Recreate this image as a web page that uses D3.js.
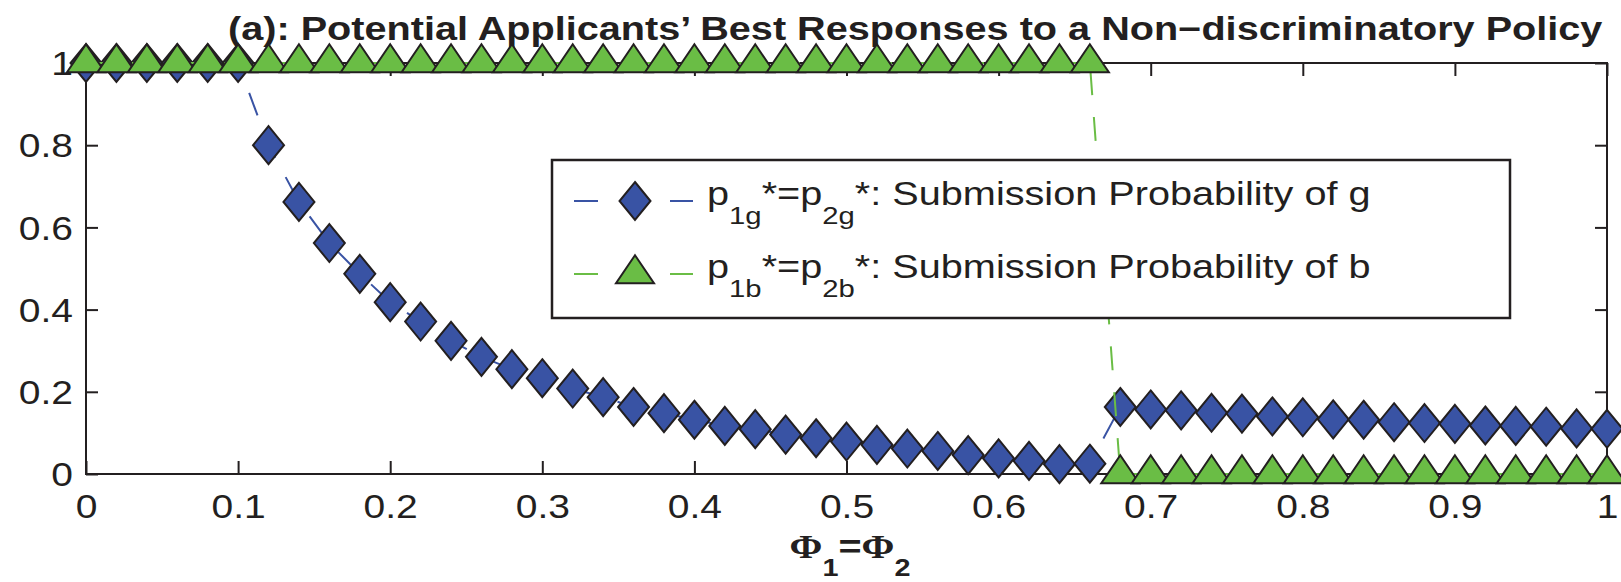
<!DOCTYPE html>
<html><head><meta charset="utf-8">
<script src="https://cdn.jsdelivr.net/npm/d3@7"></script>
<style>
body{margin:0;background:#fff;}
svg{display:block;}
text{font-family:"Liberation Sans",Arial,Helvetica,sans-serif;fill:#231f20;}
</style>
</head><body>
<svg id="chart" width="1621" height="582"></svg>
<script>
// ---------- data ----------
const phi = [0,0.02,0.04,0.06,0.08,0.10,0.12,0.14,0.16,0.18,0.20,0.22,0.24,0.26,0.28,0.30,0.32,0.34,0.36,0.38,0.40,0.42,0.44,0.46,0.48,0.50,0.52,0.54,0.56,0.58,0.60,0.62,0.64,0.66,0.68,0.70,0.72,0.74,0.76,0.78,0.80,0.82,0.84,0.86,0.88,0.90,0.92,0.94,0.96,0.98,1.00];
const pGood = [1,1,1,1,1,1,0.80,0.662,0.562,0.487,0.418,0.371,0.324,0.285,0.255,0.233,0.208,0.187,0.163,0.148,0.132,0.117,0.109,0.096,0.087,0.079,0.071,0.062,0.056,0.046,0.038,0.032,0.024,0.025,0.163,0.157,0.155,0.149,0.147,0.140,0.138,0.133,0.132,0.126,0.124,0.122,0.118,0.117,0.115,0.111,0.110];
const pBad = [1,1,1,1,1,1,1,1,1,1,1,1,1,1,1,1,1,1,1,1,1,1,1,1,1,1,1,1,1,1,1,1,1,1,0,0,0,0,0,0,0,0,0,0,0,0,0,0,0,0,0];
const xTicks = [0,0.1,0.2,0.3,0.4,0.5,0.6,0.7,0.8,0.9,1];
const yTicks = [0,0.2,0.4,0.6,0.8,1];
const titleText = "(a): Potential Applicants\u2019 Best Responses to a Non\u2212discriminatory Policy";
const legendNames = [
  {sub1:"1g", sub2:"2g", rest:"*: Submission Probability of g"},
  {sub1:"1b", sub2:"2b", rest:"*: Submission Probability of b"}
];

// ---------- style ----------
const INK = "#231f20";
const BLUE = "#3953a4";
const GREEN = "#6abd45";
const SX = 1.2;           // horizontal stretch of tick text
const SXT = 1.22;         // horizontal stretch of title / legend text
const FS = 32.5;          // main font size

const svg = d3.select("#chart");
const x = d3.scaleLinear().domain([0,1]).range([86,1607]);
const y = d3.scaleLinear().domain([0,1]).range([474,63]);

// ---------- axes ----------
function styleAxis(g){
  g.attr("font-size",null).attr("font-family",null).attr("color",INK);
  g.select(".domain").remove();
  g.selectAll(".tick line").attr("stroke-width",2);
}
const fmt = d3.format("~g");

svg.append("g").attr("transform",`translate(0,${y(0)})`)
  .call(d3.axisBottom(x).tickValues(xTicks).tickSizeInner(-13).tickSizeOuter(0).tickFormat(fmt))
  .call(styleAxis)
  .call(g=>g.selectAll("text").attr("y",44).attr("dy",null)
    .attr("transform",`scale(${SX},1)`).style("font-size",FS+"px"));

svg.append("g").attr("transform",`translate(${x(0)},0)`)
  .call(d3.axisLeft(y).tickValues(yTicks).tickSizeInner(-12).tickSizeOuter(0).tickFormat(fmt))
  .call(styleAxis)
  .call(g=>g.selectAll("text").attr("x",-13/SX).attr("dy","0.36em")
    .attr("transform",`scale(${SX},1)`).style("font-size",FS+"px"));

svg.append("g").attr("transform",`translate(0,${y(1)})`)
  .call(d3.axisTop(x).tickValues(xTicks).tickSizeInner(-13).tickSizeOuter(0).tickFormat(""))
  .call(styleAxis);

svg.append("g").attr("transform",`translate(${x(1)},0)`)
  .call(d3.axisRight(y).tickValues(yTicks).tickSizeInner(-12).tickSizeOuter(0).tickFormat(""))
  .call(styleAxis);

svg.append("rect")
  .attr("x",x(0)).attr("y",y(1)).attr("width",x(1)-x(0)).attr("height",y(0)-y(1))
  .attr("fill","none").attr("stroke",INK).attr("stroke-width",2);

// ---------- title ----------
svg.append("text")
  .attr("transform",`translate(228,40) scale(${SXT},1)`)
  .attr("font-weight","bold").style("font-size","32.5px")
  .text(titleText);

// ---------- x label ----------
const xl = svg.append("text")
  .attr("transform",`translate(850,558) scale(${SX},1)`)
  .attr("text-anchor","middle").attr("font-weight","bold");
xl.append("tspan").style("font-family","'Liberation Serif','DejaVu Serif',serif").style("font-size","33px").text("\u03A6");
xl.append("tspan").attr("dy",18).style("font-size","24px").text("1");
xl.append("tspan").attr("dy",-18).style("font-size","33px").text("=");
xl.append("tspan").style("font-family","'Liberation Serif','DejaVu Serif',serif").style("font-size","33px").text("\u03A6");
xl.append("tspan").attr("dy",18).style("font-size","24px").text("2");

// ---------- series ----------
const diamondPath = "M0,-19L15.5,0L0,19L-15.5,0Z";
const trianglePath = "M0,-18.7L19,9.3L-19,9.3Z";
const series = [
  {vals:pGood, color:BLUE, shape:diamondPath},
  {vals:pBad,  color:GREEN, shape:trianglePath}
];
const line = d3.line().x(d=>x(d[0])).y(d=>y(d[1]));

series.forEach(s=>{
  const pts = phi.map((p,i)=>[p,s.vals[i]]);
  const g = svg.append("g");
  g.append("path").datum(pts).attr("d",line)
    .attr("fill","none").attr("stroke",s.color).attr("stroke-width",2)
    .attr("stroke-dasharray","24,22");
  g.selectAll("path.m").data(pts).join("path").attr("class","m")
    .attr("transform",d=>`translate(${x(d[0])},${y(d[1])})`)
    .attr("d",s.shape).attr("fill",s.color).attr("stroke",INK).attr("stroke-width",2)
    .attr("stroke-linejoin","miter");
});

// ---------- legend ----------
const lg = svg.append("g");
lg.append("rect").attr("x",552).attr("y",160).attr("width",958).attr("height",158)
  .attr("fill","#fff").attr("stroke",INK).attr("stroke-width",2.5);
const rowsY = [201,274];
legendNames.forEach((ln,i)=>{
  const s = series[i];
  const ry = rowsY[i];
  lg.append("line").attr("x1",574).attr("x2",598).attr("y1",ry).attr("y2",ry)
    .attr("stroke",s.color).attr("stroke-width",2);
  lg.append("line").attr("x1",670).attr("x2",693).attr("y1",ry).attr("y2",ry)
    .attr("stroke",s.color).attr("stroke-width",2);
  lg.append("path").attr("transform",`translate(635,${ry})`).attr("d",s.shape)
    .attr("fill",s.color).attr("stroke",INK).attr("stroke-width",2);
  const t = lg.append("text").attr("transform",`translate(707,${ry+4}) scale(${SXT},1)`)
    .style("font-size",FS+"px");
  t.append("tspan").text("p");
  t.append("tspan").attr("dy",19).style("font-size","24px").text(ln.sub1);
  t.append("tspan").attr("dy",-19).text("*=p");
  t.append("tspan").attr("dy",19).style("font-size","24px").text(ln.sub2);
  t.append("tspan").attr("dy",-19).text(ln.rest);
});
</script>
</body></html>
